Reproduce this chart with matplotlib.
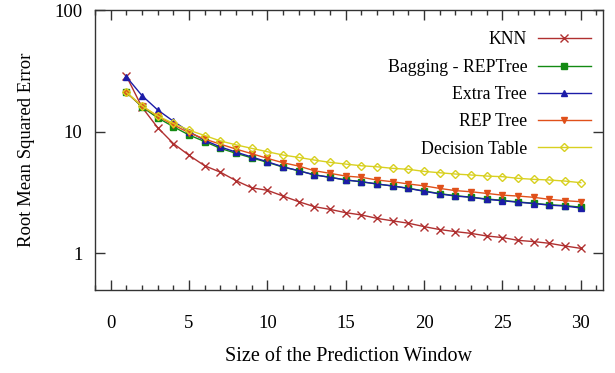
import matplotlib
matplotlib.use("Agg")
import matplotlib.pyplot as plt
from matplotlib.ticker import MultipleLocator, FixedLocator, NullLocator

plt.rcParams['font.family'] = 'Liberation Serif'
plt.rcParams['font.size'] = 13.5

# Prediction window sizes
window = list(range(1, 31))

# RMSE per model
knn = [28.7, 15.9, 10.8, 8.0, 6.4, 5.25, 4.65, 3.96, 3.46, 3.3,
       2.96, 2.66, 2.42, 2.30, 2.16, 2.07, 1.94, 1.85, 1.77, 1.66,
       1.57, 1.51, 1.46, 1.39, 1.35, 1.28, 1.25, 1.21, 1.15, 1.10]
bagging = [21.1, 16.0, 13.0, 11.0, 9.4, 8.3, 7.3, 6.65, 6.1, 5.6,
           5.12, 4.78, 4.43, 4.22, 4.02, 3.88, 3.72, 3.58, 3.43, 3.26,
           3.1, 2.98, 2.9, 2.8, 2.73, 2.65, 2.58, 2.51, 2.47, 2.40]
extra_tree = [28.3, 19.8, 15.1, 12.2, 10.0, 8.5, 7.5, 6.8, 6.2, 5.66,
              5.15, 4.78, 4.41, 4.22, 4.01, 3.88, 3.72, 3.58, 3.42, 3.24,
              3.08, 2.96, 2.89, 2.78, 2.71, 2.63, 2.57, 2.49, 2.45, 2.36]
rep_tree = [21.0, 16.2, 13.4, 11.4, 9.8, 8.7, 7.9, 7.2, 6.6, 6.04,
            5.56, 5.22, 4.78, 4.55, 4.32, 4.22, 4.01, 3.88, 3.72, 3.59,
            3.42, 3.28, 3.21, 3.11, 3.01, 2.96, 2.89, 2.78, 2.71, 2.66]
decision_table = [21.1, 16.3, 13.5, 11.7, 10.3, 9.3, 8.4, 7.8, 7.3, 6.85,
                  6.43, 6.15, 5.85, 5.6, 5.42, 5.25, 5.15, 5.0, 4.91, 4.72,
                  4.6, 4.49, 4.41, 4.32, 4.27, 4.14, 4.06, 4.01, 3.93, 3.81]

fig = plt.figure(figsize=(6.15, 3.73), dpi=100)
ax = fig.add_axes([0.1545, 0.2225, 0.8255, 0.7505])

ax.plot(window, knn, color='#b03030', marker='x', ms=5.5, mew=1, lw=1, label='KNN')
ax.plot(window, bagging, color='#138a13', marker='s', ms=5, lw=1, label='Bagging - REPTree')
ax.plot(window, extra_tree, color='#1c1ca8', marker='^', ms=4.5, lw=1, label='Extra Tree')
ax.plot(window, rep_tree, color='#e0501a', marker='v', ms=4.5, lw=1, label='REP Tree')
ax.plot(window, decision_table, color='#d8d020', marker='D', ms=4, mfc='none', mew=1, lw=1,
        label='Decision Table')

ax.set_yscale('log')
ax.set_ylim(0.5, 100)
ax.set_xlim(-1, 31.4)
ax.xaxis.set_major_locator(MultipleLocator(5))
ax.xaxis.set_minor_locator(MultipleLocator(1))
ax.yaxis.set_major_locator(FixedLocator([1, 10, 100]))
ax.yaxis.set_minor_locator(NullLocator())
ax.set_yticklabels(['1', '10', '100'])

ax.tick_params(which='both', direction='in', top=True, right=True, color='#333333')
ax.tick_params(which='major', length=7, width=1)
ax.tick_params(which='minor', length=3.5, width=1)
ax.tick_params(axis='x', pad=18)
ax.tick_params(axis='y', pad=9)
for s in ax.spines.values():
    s.set_color('#333333')
    s.set_linewidth(1)

ax.set_xlabel('Size of the Prediction Window', labelpad=11, fontsize=14.5)
ax.set_ylabel('Root Mean Squared Error', labelpad=14)

ax.legend(loc='upper right', bbox_to_anchor=(1.0, 0.965), frameon=False, markerfirst=False,
          handlelength=3.0, handletextpad=0.6, labelspacing=0.58,
          borderaxespad=0.25, fontsize=12.8)

fig.savefig('out.png', dpi=100)
